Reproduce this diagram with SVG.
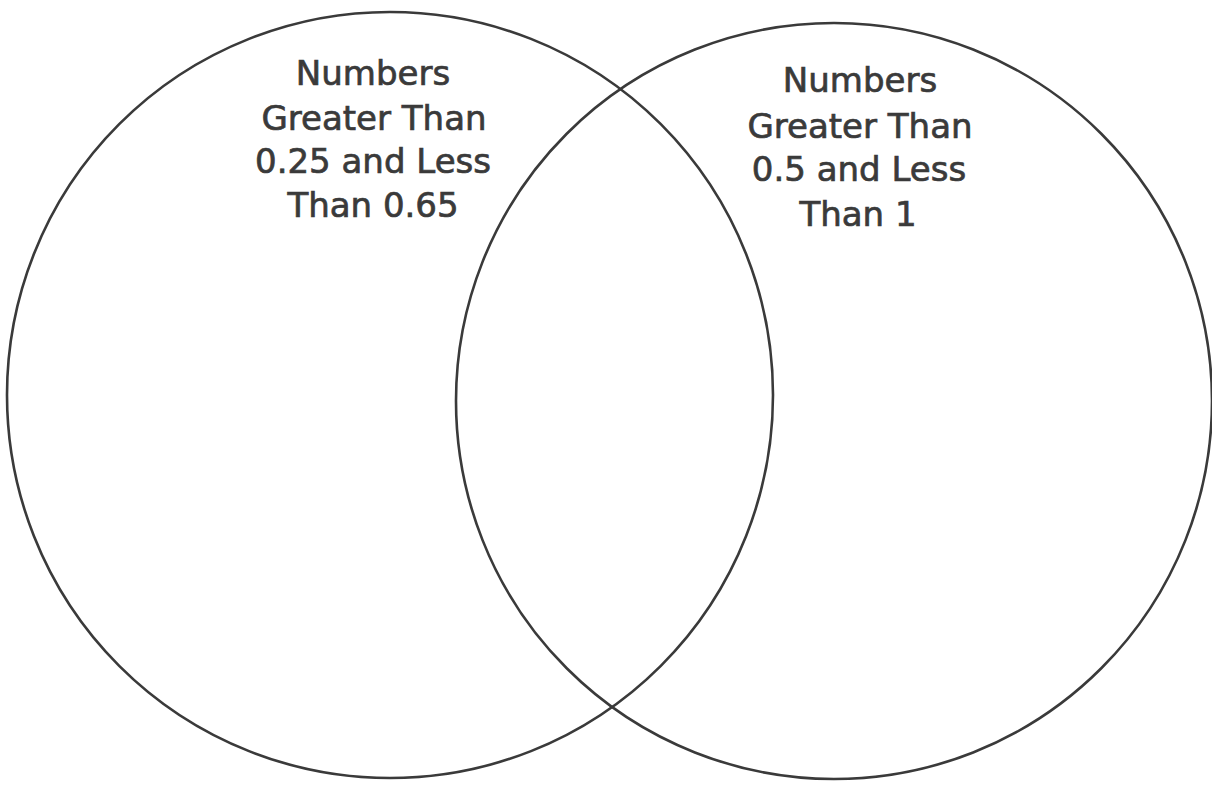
<svg xmlns="http://www.w3.org/2000/svg" width="1212" height="789" viewBox="0 0 1212 789">
<style>
.c{fill:none;stroke:#3a3a3a;stroke-width:2.6}
.t{font-family:"DejaVu Sans","Liberation Sans",sans-serif;font-size:34px;fill:#3a3a3a;stroke:#3a3a3a;stroke-width:0.7;text-anchor:middle}
</style>
<rect width="1212" height="789" fill="#fff"/>
<g id="left-set">
<circle class="c" cx="390" cy="395" r="383"/>
<text class="t"><tspan x="373" y="85">Numbers</tspan><tspan x="374" y="130">Greater Than</tspan><tspan x="373" y="173">0.25 and Less</tspan><tspan x="373" y="217">Than 0.65</tspan></text>
</g>
<g id="right-set">
<circle class="c" cx="834" cy="401" r="378"/>
<text class="t"><tspan x="860" y="92">Numbers</tspan><tspan x="860" y="138">Greater Than</tspan><tspan x="859" y="181">0.5 and Less</tspan><tspan x="858" y="226">Than 1</tspan></text>
</g>
<g id="connectors"></g>
</svg>
